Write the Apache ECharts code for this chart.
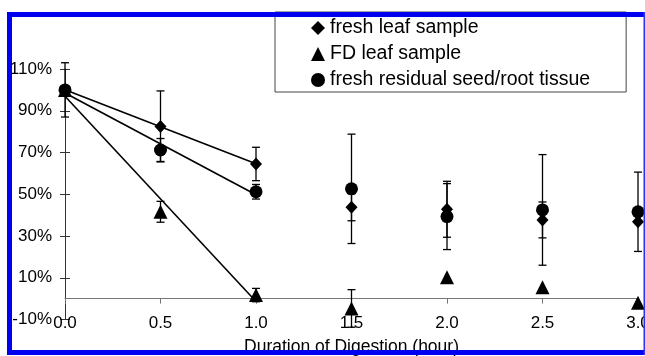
<!DOCTYPE html>
<html>
<head>
<meta charset="utf-8">
<script src="https://cdn.jsdelivr.net/npm/echarts@6/dist/echarts.min.js"></script>
<style>
html,body{margin:0;padding:0;background:#fff;}
#chart{width:645px;height:356px;}
</style>
</head>
<body>
<div id="chart"></div>
<script>
// Duration of digestion (hour)
const durations = [0, 0.5, 1.0, 1.5, 2.0, 2.5, 3.0];
// Values (%)
const freshLeaf    = [100, 82.5, 64.5, 43.8, 42.8, 37.7, 36.8];
const freshLeafErr = [13, 17, 8, 6.5, 13.4, 8.6, null];
const fdLeaf       = [100, 41.6, 1.7, -4.7, 10.2, 5.4, -2.0];
const fdLeafErr    = [null, 5, 3.2, 9, null, null, null];
const residual     = [100, 71.2, 51.2, 52.6, 39.3, 42.5, 41.6];
const residualErr  = [null, 5.5, 3.5, 26.2, 15.8, 26.5, 19];
const seriesNames  = ['fresh leaf sample', 'FD leaf sample', 'fresh residual seed/root tissue'];
const xTicks = {min: 0, max: 3, interval: 0.5};
const yTicks = {min: -10, max: 110, interval: 20};
const xAxisTitle = 'Duration of Digestion (hour)';

const FONT = "'Liberation Sans', Arial, Helvetica, sans-serif";

function pts(vals) { return durations.map((d, i) => [d, vals[i]]); }
function errPts(vals, errs) {
  const out = [];
  durations.forEach((d, i) => { if (errs[i] != null) out.push([d, vals[i], errs[i]]); });
  return out;
}
// linear trendline over first three points (0 - 1.0 h)
function trend(vals) {
  const xs = durations.slice(0, 3), ys = vals.slice(0, 3);
  const n = xs.length;
  const mx = xs.reduce((a, b) => a + b, 0) / n, my = ys.reduce((a, b) => a + b, 0) / n;
  let sxy = 0, sxx = 0;
  for (let i = 0; i < n; i++) { sxy += (xs[i] - mx) * (ys[i] - my); sxx += (xs[i] - mx) ** 2; }
  const b = sxy / sxx, a = my - b * mx;
  return [[xs[0], a + b * xs[0]], [xs[n - 1], a + b * xs[n - 1]]];
}

function errorRender(params, api) {
  const x = api.value(0), v = api.value(1), e = api.value(2);
  const hi = api.coord([x, v + e]);
  const lo = api.coord([x, v - e]);
  const w = 4;
  const st = {stroke: '#000', lineWidth: 1.3};
  return {type: 'group', children: [
    {type: 'line', shape: {x1: hi[0], y1: hi[1], x2: lo[0], y2: lo[1]}, style: st},
    {type: 'line', shape: {x1: hi[0] - w, y1: hi[1], x2: hi[0] + w, y2: hi[1]}, style: st},
    {type: 'line', shape: {x1: lo[0] - w, y1: lo[1], x2: lo[0] + w, y2: lo[1]}, style: st}
  ]};
}

const chart = echarts.init(document.getElementById('chart'), null, {renderer: 'canvas'});
const lineStyle = {color: '#000', width: 1.6};

const option = {
  animation: false,
  backgroundColor: '#fff',
  textStyle: {fontFamily: FONT},
  grid: {left: 65, right: 7, top: 69, bottom: 36.5, containLabel: false, outerBoundsMode: 'none'},
  legend: {
    orient: 'vertical',
    left: 275, top: 12,
    data: seriesNames,
    itemWidth: 14, itemHeight: 14, itemGap: 6,
    padding: [6, 36, 2, 36],
    borderColor: '#444', borderWidth: 1,
    backgroundColor: '#fff',
    textStyle: {fontFamily: FONT, fontSize: 19.5, color: '#000', lineHeight: 20}
  },
  xAxis: [
    {
      type: 'value', position: 'bottom', min: xTicks.min, max: xTicks.max, interval: xTicks.interval,
      axisLine: {show: false, onZero: false}, axisTick: {show: false}, splitLine: {show: false},
      axisLabel: {formatter: v => v.toFixed(1), color: '#000', fontSize: 17, fontFamily: FONT, margin: -5, showMaxLabel: true},
      name: xAxisTitle, nameLocation: 'middle', nameGap: 19,
      nameTextStyle: {fontSize: 17.5, color: '#000', fontFamily: FONT}
    },
    {
      type: 'value', position: 'bottom', min: xTicks.min, max: xTicks.max, interval: xTicks.interval,
      axisLine: {show: true, onZero: true, lineStyle: {color: '#777', width: 1}},
      axisTick: {show: true, inside: false, length: 5, lineStyle: {color: '#777'}},
      axisLabel: {show: false}, splitLine: {show: false}
    }
  ],
  yAxis: [
    {
      type: 'value', min: yTicks.min, max: yTicks.max, interval: yTicks.interval,
      axisLine: {show: true, onZero: false, lineStyle: {color: '#333', width: 1}},
      axisTick: {show: true, inside: false, length: 5, lineStyle: {color: '#333'}},
      axisLabel: {formatter: v => v + '%', color: '#000', fontSize: 17, fontFamily: FONT, margin: 13},
      splitLine: {show: false}
    },
    {
      type: 'value', position: 'left', min: yTicks.min, max: yTicks.max, interval: yTicks.interval,
      axisLine: {show: false, onZero: false},
      axisTick: {show: true, inside: true, length: 5, lineStyle: {color: '#333'}},
      axisLabel: {show: false}, splitLine: {show: false}
    }
  ],
  series: [
    {type: 'line', data: trend(freshLeaf), symbol: 'none', lineStyle: lineStyle, z: 2, silent: true},
    {type: 'line', data: trend(fdLeaf), symbol: 'none', lineStyle: lineStyle, z: 2, silent: true},
    {type: 'line', data: trend(residual), symbol: 'none', lineStyle: lineStyle, z: 2, silent: true},
    {type: 'custom', data: errPts(freshLeaf, freshLeafErr), renderItem: errorRender, clip: false, z: 3, encode: {x: 0, y: 1}},
    {type: 'custom', data: errPts(fdLeaf, fdLeafErr), renderItem: errorRender, clip: false, z: 3, encode: {x: 0, y: 1}},
    {type: 'custom', data: errPts(residual, residualErr), renderItem: errorRender, clip: false, z: 3, encode: {x: 0, y: 1}},
    {name: seriesNames[0], type: 'scatter', data: pts(freshLeaf), symbol: 'diamond', symbolSize: [12, 13],
     itemStyle: {color: '#000', opacity: 1}, z: 5, clip: false},
    {name: seriesNames[1], type: 'scatter', data: pts(fdLeaf), symbol: 'triangle', symbolSize: 14,
     itemStyle: {color: '#000', opacity: 1}, z: 5, clip: false},
    {name: seriesNames[2], type: 'scatter', data: pts(residual), symbol: 'circle', symbolSize: 13,
     itemStyle: {color: '#000', opacity: 1}, z: 5, clip: false}
  ],
  graphic: [
    {type: 'rect', shape: {x: 7, y: 12, width: 5, height: 343}, style: {fill: '#0000f0'}, z: 100},
    {type: 'rect', shape: {x: 7, y: 12, width: 640, height: 5}, style: {fill: '#0000f0'}, z: 100},
    {type: 'rect', shape: {x: 7, y: 350, width: 640, height: 5}, style: {fill: '#0000f0'}, z: 100},
    {type: 'rect', shape: {x: 643.5, y: 12, width: 5, height: 343}, style: {fill: '#3030f0'}, z: 100}
  ]
};
chart.setOption(option);
</script>
</body>
</html>
